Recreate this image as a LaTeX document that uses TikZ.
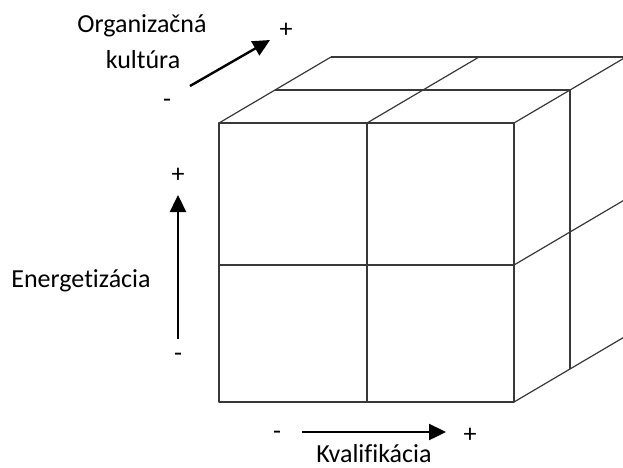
\documentclass[tikz,border=0pt]{standalone}
\usepackage{fontspec}
\setmainfont{Carlito}[Ligatures=NoCommon]
\usetikzlibrary{arrows.meta}
\tikzset{
  cubeline/.style={draw=black!78, line width=1.2pt, line join=round},
  axisarrow/.style={draw=black, line width=2.4pt, -{Triangle[length=17pt,width=16pt]}},
  lbl/.style={font=\fontsize{26}{30}\selectfont, text=black, inner sep=0pt, anchor=base},
  sign/.style={font=\fontsize{26}{30}\selectfont, text=black, inner sep=0pt}
}
\begin{document}
\begin{tikzpicture}[x=1pt,y=-1pt]
\useasboundingbox (0,0) rectangle (623,467);
\clip (0,0) rectangle (623,467);
% front face
\draw[cubeline] (219,123) rectangle (514,402);
\draw[cubeline] (367,123) -- (367,402);
\draw[cubeline] (219,265) -- (514,265);
% top face
\draw[cubeline] (275,90) -- (570,90);
\draw[cubeline] (331,57) -- (626,57);
\draw[cubeline] (219,123) -- (331,57);
\draw[cubeline] (367,123) -- (479,57);
\draw[cubeline] (514,123) -- (626,57);
% right face
\draw[cubeline] (570,90) -- (570,369);
\draw[cubeline] (514,265) -- (626,199);
\draw[cubeline] (514,402) -- (626,336);
% Organizacna kultura
\node[lbl] (org1) at (142,32) {Organizačná};
\node[lbl] (org2) at (143,68) {kultúra};
\coordinate (oS) at (190,86);
\coordinate (oE) at (270,40);
\draw[axisarrow] (oS) -- (oE);
\node[sign] (oplus) at (286,30) {+};
\node[sign] (ominus) at (167,103) {-};
% Energetizacia
\node[lbl] (ener) at (81,287) {Energetizácia};
\coordinate (eS) at (178,339);
\coordinate (eE) at (178,195);
\draw[axisarrow] (eS) -- (eE);
\node[sign] (eplus) at (178,175) {+};
\node[sign] (eminus) at (178,357) {-};
% Kvalifikacia
\node[lbl] (kval) at (374,462) {Kvalifikácia};
\coordinate (kS) at (302,432);
\coordinate (kE) at (446,432);
\draw[axisarrow] (kS) -- (kE);
\node[sign] (kminus) at (277,435) {-};
\node[sign] (kplus) at (470,435) {+};
\end{tikzpicture}
\end{document}
